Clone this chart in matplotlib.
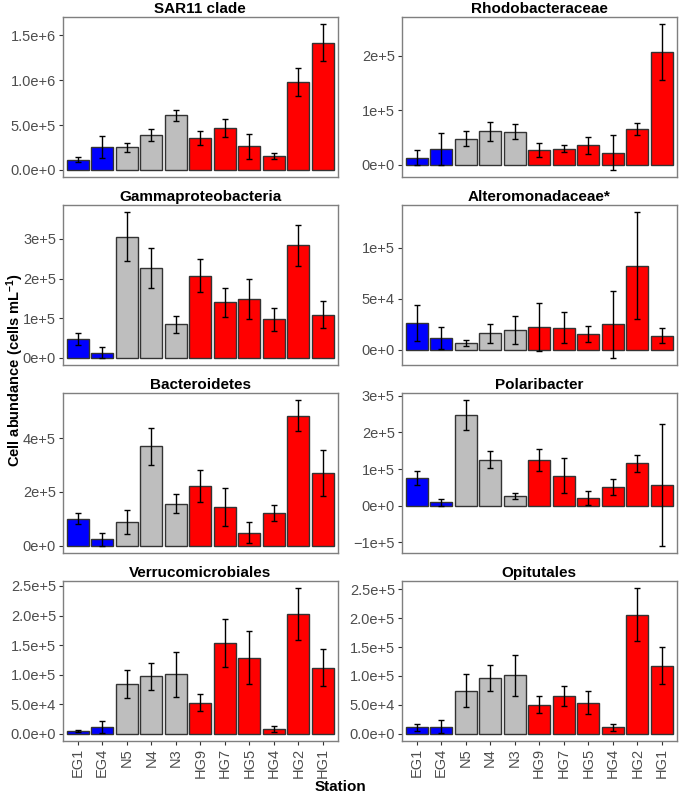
import numpy as np
import matplotlib
matplotlib.use("Agg")
import matplotlib.pyplot as plt
from matplotlib.ticker import FuncFormatter

plt.rcParams['font.family'] = ['Liberation Sans', 'DejaVu Sans']
plt.rcParams['mathtext.fontset'] = 'custom'
plt.rcParams['mathtext.rm'] = 'Liberation Sans:bold'
plt.rcParams['mathtext.it'] = 'Liberation Sans:bold'
plt.rcParams['mathtext.bf'] = 'Liberation Sans:bold'

# stations and their groups
stations = ['EG1', 'EG4', 'N5', 'N4', 'N3', 'HG9', 'HG7', 'HG5', 'HG4', 'HG2', 'HG1']
groups = ['EG', 'EG', 'N', 'N', 'N', 'HG', 'HG', 'HG', 'HG', 'HG', 'HG']
group_colors = {'EG': '#0000FF', 'N': '#BEBEBE', 'HG': '#FF0000'}

# mean cell abundance and error (cells/mL)
sar11 = [1.1e5, 2.55e5, 2.5e5, 3.9e5, 6.1e5, 3.5e5, 4.65e5, 2.6e5, 1.5e5, 9.8e5, 1.42e6]
sar11_err = [2.8e4, 1.2e5, 5.0e4, 7.0e4, 6.0e4, 7.8e4, 1.0e5, 1.4e5, 3.2e4, 1.53e5, 2.05e5]

rhodo = [1.35e4, 2.9e4, 4.8e4, 6.2e4, 6.1e4, 2.75e4, 3.0e4, 3.6e4, 2.25e4, 6.5e4, 2.07e5]
rhodo_err = [1.35e4, 3.0e4, 1.4e4, 1.75e4, 1.4e4, 1.27e4, 7.3e3, 1.6e4, 3.15e4, 1.1e4, 5.1e4]

gamma = [4.7e4, 1.3e4, 3.06e5, 2.26e5, 8.4e4, 2.07e5, 1.4e5, 1.49e5, 9.7e4, 2.84e5, 1.08e5]
gamma_err = [1.6e4, 1.3e4, 6.15e4, 5.0e4, 2.26e4, 4.2e4, 3.6e4, 5.0e4, 2.9e4, 5.25e4, 3.4e4]

altero = [2.66e4, 1.17e4, 6.8e3, 1.62e4, 1.92e4, 2.24e4, 2.18e4, 1.53e4, 2.5e4, 8.25e4, 1.4e4]
altero_err = [1.74e4, 1.12e4, 3.3e3, 9.3e3, 1.36e4, 2.37e4, 1.5e4, 7.8e3, 3.26e4, 5.24e4, 7.6e3]

bacter = [1.0e5, 2.35e4, 8.9e4, 3.7e5, 1.57e5, 2.22e5, 1.44e5, 4.8e4, 1.23e5, 4.84e5, 2.7e5]
bacter_err = [2.0e4, 2.3e4, 4.5e4, 6.9e4, 3.6e4, 6.0e4, 7.2e4, 3.9e4, 3.0e4, 5.75e4, 8.5e4]

polari = [7.55e4, 9e3, 2.48e5, 1.26e5, 2.7e4, 1.26e5, 8.2e4, 2.1e4, 5.1e4, 1.155e5, 5.65e4]
polari_err = [1.8e4, 1.0e4, 4.0e4, 2.2e4, 8e3, 3.0e4, 4.7e4, 1.95e4, 2.1e4, 2.4e4, 1.66e5]

verruco = [4.5e3, 1.18e4, 8.45e4, 9.74e4, 1.008e5, 5.24e4, 1.537e5, 1.284e5, 8.5e3, 2.02e5, 1.12e5]
verruco_err = [2e3, 1.0e4, 2.4e4, 2.3e4, 3.8e4, 1.43e4, 4.0e4, 4.5e4, 5e3, 4.4e4, 3.1e4]

opitu = [1.09e4, 1.26e4, 7.47e4, 9.71e4, 1.01e5, 5.06e4, 6.55e4, 5.4e4, 1.09e4, 2.06e5, 1.18e5]
opitu_err = [5.2e3, 1.06e4, 2.85e4, 2.27e4, 3.6e4, 1.47e4, 1.66e4, 2.04e4, 6e3, 4.55e4, 3.15e4]

panels = [
    ('SAR11 clade', sar11, sar11_err, [0, 5e5, 1e6, 1.5e6], 1),
    ('Rhodobacteraceae', rhodo, rhodo_err, [0, 1e5, 2e5], 0),
    ('Gammaproteobacteria', gamma, gamma_err, [0, 1e5, 2e5, 3e5], 0),
    ('Alteromonadaceae*', altero, altero_err, [0, 5e4, 1e5], 0),
    ('Bacteroidetes', bacter, bacter_err, [0, 2e5, 4e5], 0),
    ('Polaribacter', polari, polari_err, [-1e5, 0, 1e5, 2e5, 3e5], 0),
    ('Verrucomicrobiales', verruco, verruco_err, [0, 5e4, 1e5, 1.5e5, 2e5, 2.5e5], 1),
    ('Opitutales', opitu, opitu_err, [0, 5e4, 1e5, 1.5e5, 2e5, 2.5e5], 1),
]


def sci_fmt(decimals):
    def f(v, pos):
        if v == 0:
            return '0.0e+0' if decimals else '0e+0'
        exp = int(np.floor(np.log10(abs(v))))
        mant = v / 10 ** exp
        sign = '\u2212' if mant < 0 else ''
        return f"{sign}{abs(mant):.{decimals}f}e+{exp}"
    return f


fig = plt.figure(figsize=(6.8, 7.96), dpi=100)
lefts = [0.0926, 0.591]
bottoms = [0.7776, 0.5415, 0.3053, 0.069]
w, h = 0.404, 0.201

x = np.arange(len(stations))
colors = [group_colors[g] for g in groups]

for i, (title, vals, errs, ticks, dec) in enumerate(panels):
    row, col = divmod(i, 2)
    ax = fig.add_axes([lefts[col], bottoms[row], w, h])
    vals = np.array(vals)
    errs = np.array(errs)
    ax.bar(x, vals, width=0.9, color=colors, edgecolor='#333333', linewidth=1.0, zorder=2)
    ax.errorbar(x, vals, yerr=errs, fmt='none', ecolor='black', elinewidth=1.0,
                capsize=2.5, capthick=1.0, zorder=3)
    lo = min(0, (vals - errs).min())
    hi = (vals + errs).max()
    pad = 0.05 * (hi - lo)
    ax.set_ylim(lo - pad, hi + pad)
    ax.set_xlim(-0.6, len(stations) - 0.4)
    ax.set_yticks(ticks)
    ax.yaxis.set_major_formatter(FuncFormatter(sci_fmt(dec)))
    ax.set_title(title, fontsize=11, fontweight='bold', pad=3)
    for s in ax.spines.values():
        s.set_color('#7F7F7F')
        s.set_linewidth(1.0)
    ax.tick_params(axis='y', colors='#333333', labelcolor='#4D4D4D', labelsize=10.5,
                   length=3, width=0.8, pad=2)
    if row == 3:
        ax.set_xticks(x)
        ax.set_xticklabels(stations, rotation=90)
        ax.tick_params(axis='x', colors='#333333', labelcolor='#4D4D4D', labelsize=10.5,
                       length=3, width=0.8, pad=2)
    else:
        ax.set_xticks([])

fig.text(0.5, 0.003, 'Station', ha='center', va='bottom', fontsize=11, fontweight='bold')
fig.text(0.006, 0.535, 'Cell abundance (cells mL$^{\\mathbf{-1}}$)', rotation=90, ha='left',
         va='center', fontsize=10.5, fontweight='bold')

fig.savefig('out.png', dpi=100)
